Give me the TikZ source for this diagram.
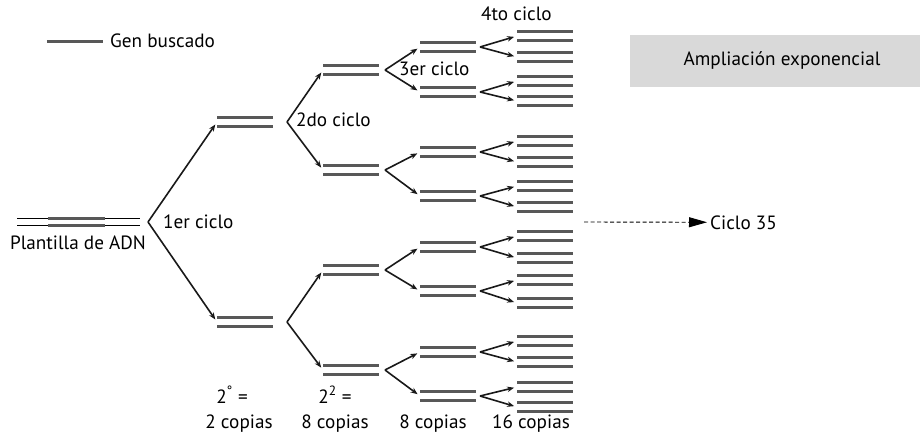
\documentclass[tikz,border=0pt]{standalone}
\usepackage{fontspec}
\setmainfont{PT Sans}
\usetikzlibrary{arrows.meta}
\definecolor{barc}{RGB}{88,88,88}
\definecolor{boxc}{RGB}{217,217,217}
\tikzset{
  barline/.style={draw=barc, line width=3pt},
  dbar/.style={minimum width=56pt, minimum height=8.5pt, inner sep=0pt, outer sep=0pt},
  arr/.style={draw=black!90, line width=1.6pt, -{Stealth[length=7pt,width=5.5pt]}, shorten >=3pt},
  lbl/.style={font=\fontsize{19.2}{22}\selectfont, inner sep=0pt},
  dasharr/.style={draw=black, line width=0.9pt, dash pattern=on 4pt off 2.5pt, -{Triangle[length=18pt,width=10pt]}, shorten >=3pt},
}
\newcommand\mkbar[2]{\node[dbar] (#1) at (#2) {};
  \draw[barline] (#1.north west)--(#1.north east) (#1.south west)--(#1.south east);}
\begin{document}
\begin{tikzpicture}[x=1pt,y=-1pt]
\useasboundingbox (0,0) rectangle (922,442);

% legend
\node[minimum width=56pt, minimum height=0pt, inner sep=0pt] (leg) at (75,41) {};
\draw[barline] (leg.west) -- (leg.east);
\node[lbl, anchor=base west] (legtxt) at (110,47) {Gen buscado};

% template
\node[minimum width=123pt, minimum height=6.5pt, inner sep=0pt, outer sep=0pt] (tmpl) at (78.5,222) {};
\draw[black, line width=0.9pt] (tmpl.north west) -- (tmpl.north east) (tmpl.south west) -- (tmpl.south east);
\draw[barline] ([xshift=31pt]tmpl.north west) -- ([xshift=-35pt]tmpl.north east)
               ([xshift=31pt]tmpl.south west) -- ([xshift=-35pt]tmpl.south east);
\node[lbl, anchor=base] (tmpltxt) at (78,249) {Plantilla de ADN};

% level 1
\foreach \n/\y in {a/122,b/322} { \mkbar{l1\n}{245,\y} }
% level 2
\foreach \n/\y in {a/70,b/170,c/270,d/370} { \mkbar{l2\n}{351,\y} }
% level 3
\foreach \n/\y in {a/47,b/92,c/152,d/196,e/247,f/291,g/352,h/396} { \mkbar{l3\n}{448,\y} }
% level 4
\foreach \n/\y in {a/36,b/57,c/81,d/101,e/141,f/162,g/186,h/207,i/236,j/258,k/280,l/303,m/341,n/362,o/387,p/407} { \mkbar{l4\n}{545,\y} }

% forks
\foreach \p/\c/\d/\s in {tmpl/l1a/l1b/8,
  l1a/l2a/l2b/14, l1b/l2c/l2d/14,
  l2a/l3a/l3b/6, l2b/l3c/l3d/6, l2c/l3e/l3f/6, l2d/l3g/l3h/6,
  l3a/l4a/l4b/4, l3b/l4c/l4d/4, l3c/l4e/l4f/4, l3d/l4g/l4h/4,
  l3e/l4i/l4j/4, l3f/l4k/l4l/4, l3g/l4m/l4n/4, l3h/l4o/l4p/4} {
  \coordinate (ap\p) at ([xshift=\s pt]\p.east);
  \draw[arr] (ap\p) -- (\c.west);
  \draw[arr] (ap\p) -- (\d.west);
}

% cycle labels
\node[lbl, anchor=base west] (c1) at (163,228) {1er ciclo};
\node[lbl, anchor=base west] (c2) at (296,126) {2do ciclo};
\node[lbl, anchor=base west] (c3) at (399,75) {3er ciclo};
\node[lbl, anchor=base west] (c4) at (481,20) {4to ciclo};

% bottom labels
\node[lbl, anchor=base] (b1a) at (232,403) {2\textsuperscript{°} =};
\node[lbl, anchor=base] (b1b) at (239,428) {2 copias};
\node[lbl, anchor=base] (b2a) at (335,403) {2\textsuperscript{2} =};
\node[lbl, anchor=base] (b2b) at (335,428) {8 copias};
\node[lbl, anchor=base] (b3) at (433,428) {8 copias};
\node[lbl, anchor=base] (b4) at (531,428) {16 copias};

% dashed arrow
\coordinate (dstart) at (584,222);
\node[lbl, anchor=base west] (c35) at (710,229) {Ciclo 35};
\draw[dasharr] (dstart) -- (c35.west);

% box
\node[lbl, fill=boxc, minimum width=290pt, minimum height=52pt] (box) at (775,61) {\hspace{14pt}Ampliación exponencial};
\end{tikzpicture}
\end{document}
